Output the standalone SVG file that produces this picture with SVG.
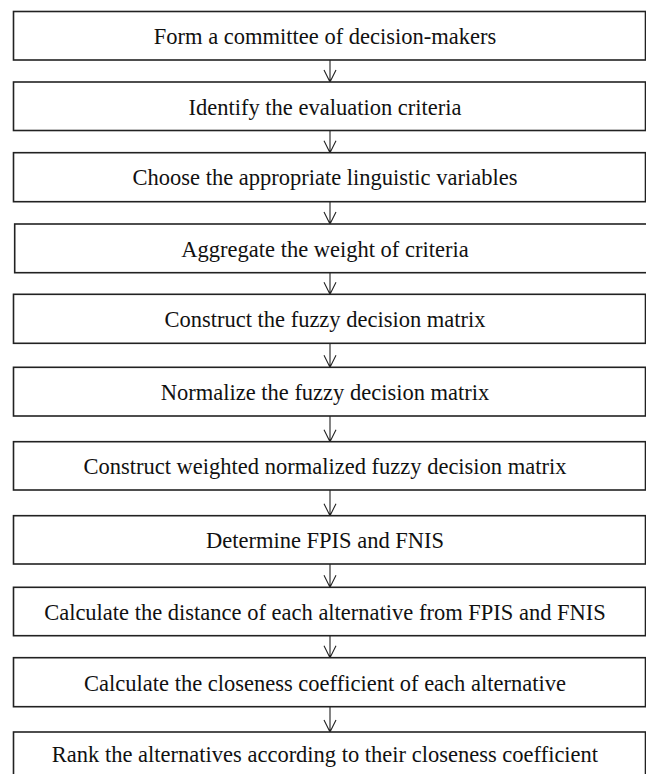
<svg xmlns="http://www.w3.org/2000/svg" width="646" height="774" viewBox="0 0 646 774">
<style>
.box{fill:#fff;stroke:#222;stroke-width:1.6}
.t{font-family:"Liberation Serif","Times New Roman",serif;font-size:22.5px;fill:#111;text-anchor:middle}
.c{fill:none;stroke:#222;stroke-width:1.1}
</style>
<rect width="646" height="774" fill="#fff"/>
<g id="connectors">
<path class="c" d="M330 60V82M324 70L330 82L336 70"/>
<path class="c" d="M330 130.5V152.7M324 140.7L330 152.7L336 140.7"/>
<path class="c" d="M330 201.7V224M324 212L330 224L336 212"/>
<path class="c" d="M330 272.7V294.3M324 282.3L330 294.3L336 282.3"/>
<path class="c" d="M330 343.3V367.3M324 355.3L330 367.3L336 355.3"/>
<path class="c" d="M330 416V441.7M324 429.7L330 441.7L336 429.7"/>
<path class="c" d="M330 490V515.7M324 503.7L330 515.7L336 503.7"/>
<path class="c" d="M330 564V587.3M324 575.3L330 587.3L336 575.3"/>
<path class="c" d="M330 635.7V657.7M324 645.7L330 657.7L336 645.7"/>
<path class="c" d="M330 706.7V732M324 720L330 732L336 720"/>
</g>
<g id="n1"><rect class="box" x="13.5" y="11.5" width="632" height="48.5"/><text class="t" x="325" y="44">Form a committee of decision-makers</text></g>
<g id="n2"><rect class="box" x="13.5" y="82" width="632" height="48.5"/><text class="t" x="325" y="114.5">Identify the evaluation criteria</text></g>
<g id="n3"><rect class="box" x="13.5" y="152.7" width="632" height="49"/><text class="t" x="325" y="185.3">Choose the appropriate linguistic variables</text></g>
<g id="n4"><rect class="box" x="14.7" y="224" width="640" height="48.7"/><text class="t" x="325" y="256.5">Aggregate the weight of criteria</text></g>
<g id="n5"><rect class="box" x="13.5" y="294.3" width="632" height="49"/><text class="t" x="325" y="326.5">Construct the fuzzy decision matrix</text></g>
<g id="n6"><rect class="box" x="13.5" y="367.3" width="632" height="48.7"/><text class="t" x="325" y="399.5">Normalize the fuzzy decision matrix</text></g>
<g id="n7"><rect class="box" x="13.5" y="441.7" width="632" height="48.3"/><text class="t" x="325" y="474">Construct weighted normalized fuzzy decision matrix</text></g>
<g id="n8"><rect class="box" x="13.5" y="515.7" width="632" height="48.3"/><text class="t" x="325" y="548">Determine FPIS and FNIS</text></g>
<g id="n9"><rect class="box" x="13.5" y="587.3" width="632" height="48.4"/><text class="t" x="325" y="619.5">Calculate the distance of each alternative from FPIS and FNIS</text></g>
<g id="n10"><rect class="box" x="13.5" y="657.7" width="632" height="49"/><text class="t" x="325" y="690.5">Calculate the closeness coefficient of each alternative</text></g>
<g id="n11"><rect class="box" x="13.5" y="732" width="632" height="50"/><text class="t" x="325" y="761.5">Rank the alternatives according to their closeness coefficient</text></g>
</svg>
